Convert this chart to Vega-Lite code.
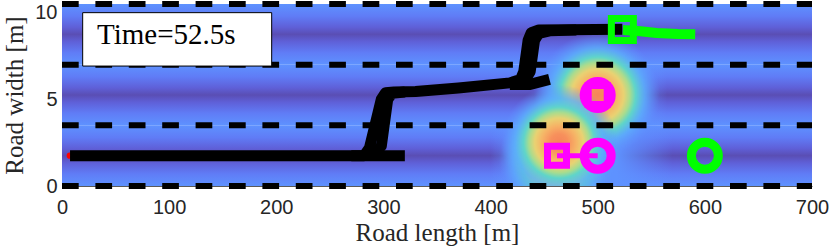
{
  "$schema": "https://vega.github.io/schema/vega-lite/v6.json",
  "width": 750,
  "height": 182,
  "autosize": "none",
  "padding": {"left": 62, "top": 4, "right": 18, "bottom": 63},
  "background": "white",
  "config": {
    "view": {"stroke": null},
    "axis": {
      "domainColor": "#5a5a5a",
      "domainWidth": 1,
      "ticks": false,
      "grid": false,
      "labelFont": "Liberation Sans",
      "labelFontSize": 20,
      "labelColor": "#262626",
      "titleFont": "Liberation Serif",
      "titleFontSize": 25,
      "titleFontWeight": "normal",
      "titleColor": "#262626"
    }
  },
  "datasets": {
    "lanes": [
      {"x": 0, "x2": 700, "y": 0, "y2": 3.5},
      {"x": 0, "x2": 700, "y": 3.5, "y2": 7},
      {"x": 0, "x2": 700, "y": 7, "y2": 10.5}
    ],
    "halos": [
      {"x": 400, "x2": 570, "y": 0, "y2": 3.5},
      {"x": 440, "x2": 565, "y": 3.5, "y2": 7}
    ],
    "blobs": [
      {"x": 442, "x2": 558, "y": 1.67, "y2": 8.83},
      {"x": 408, "x2": 516, "y": -1.85, "y2": 4.85},
      {"x": 410, "x2": 518, "y": -0.85, "y2": 5.85}
    ],
    "laneLines": [
      {"x": 0, "x2": 700, "y": 0},
      {"x": 0, "x2": 700, "y": 3.5},
      {"x": 0, "x2": 700, "y": 7},
      {"x": 0, "x2": 700, "y": 10.5}
    ],
    "start": [{"x": 7.3, "y": 1.75}],
    "egoPaths": [
      {"path": "A", "order": 1, "x": 7.5, "y": 1.75},
      {"path": "A", "order": 2, "x": 282, "y": 1.75},
      {"path": "A", "order": 3, "x": 287, "y": 2.2},
      {"path": "A", "order": 4, "x": 298, "y": 5.0},
      {"path": "A", "order": 5, "x": 302, "y": 5.38},
      {"path": "A", "order": 6, "x": 310, "y": 5.42},
      {"path": "A", "order": 7, "x": 330, "y": 5.45},
      {"path": "A", "order": 8, "x": 370, "y": 5.65},
      {"path": "A", "order": 9, "x": 418, "y": 5.95},
      {"path": "A", "order": 10, "x": 428, "y": 6.15},
      {"path": "A", "order": 11, "x": 431, "y": 6.6},
      {"path": "A", "order": 12, "x": 435, "y": 8.4},
      {"path": "A", "order": 13, "x": 438, "y": 8.85},
      {"path": "A", "order": 14, "x": 445, "y": 9.0},
      {"path": "A", "order": 15, "x": 523, "y": 9.05},
      {"path": "B", "order": 1, "x": 270, "y": 1.75},
      {"path": "B", "order": 2, "x": 320, "y": 1.75},
      {"path": "C", "order": 1, "x": 292, "y": 1.9},
      {"path": "C", "order": 2, "x": 298, "y": 2.3},
      {"path": "C", "order": 3, "x": 304, "y": 5.0},
      {"path": "C", "order": 4, "x": 308, "y": 5.35},
      {"path": "C", "order": 5, "x": 320, "y": 5.42},
      {"path": "D", "order": 1, "x": 425, "y": 6.0},
      {"path": "D", "order": 2, "x": 434, "y": 6.3},
      {"path": "D", "order": 3, "x": 437, "y": 6.6},
      {"path": "D", "order": 4, "x": 441, "y": 8.4},
      {"path": "D", "order": 5, "x": 445, "y": 8.8},
      {"path": "D", "order": 6, "x": 455, "y": 8.95},
      {"path": "D", "order": 7, "x": 480, "y": 9.0},
      {"path": "E", "order": 1, "x": 418, "y": 5.85},
      {"path": "E", "order": 2, "x": 436, "y": 5.85},
      {"path": "E", "order": 3, "x": 455, "y": 6.15}
    ],
    "egoPlan": [
      {"order": 1, "x": 523.5, "y": 9.0},
      {"order": 2, "x": 540, "y": 8.93},
      {"order": 3, "x": 555, "y": 8.83},
      {"order": 4, "x": 575, "y": 8.77},
      {"order": 5, "x": 591, "y": 8.75}
    ],
    "obstacleLink": [
      {"order": 1, "x": 462, "y": 1.75},
      {"order": 2, "x": 500, "y": 1.75}
    ],
    "obstacleNow": [
      {"x": 462, "y": 1.75},
      {"x": 500, "y": 5.25}
    ],
    "obstacleGoal": [
      {"x": 500, "y": 1.75},
      {"x": 500, "y": 5.25}
    ],
    "egoNow": [{"x": 523, "y": 9.03}],
    "egoGoal": [{"x": 600, "y": 1.75}],
    "timeBox": [
      {"x": 19.3, "x2": 195.7, "y": 6.92, "y2": 10.0}
    ],
    "timeLabel": [
      {"x": 32.7, "y": 8.18, "label": "Time=52.5s"}
    ]
  },
  "layer": [
    {
      "data": {"name": "lanes"},
      "mark": {
        "type": "rect",
        "color": {
          "gradient": "linear",
          "x1": 0, "y1": 0, "x2": 0, "y2": 1,
          "stops": [
            {"offset": 0, "color": "#5e92ff"},
            {"offset": 0.2, "color": "#607cf6"},
            {"offset": 0.38, "color": "#5f60d8"},
            {"offset": 0.5, "color": "#5a4eb4"},
            {"offset": 0.62, "color": "#5f60d8"},
            {"offset": 0.8, "color": "#607cf6"},
            {"offset": 1, "color": "#5e92ff"}
          ]
        }
      },
      "encoding": {
        "x": {
          "field": "x",
          "type": "quantitative",
          "scale": {"domain": [0, 700], "nice": false, "zero": false},
          "axis": {
            "values": [0, 100, 200, 300, 400, 500, 600, 700],
            "labelPadding": 11,
            "labelFlush": false,
            "labelOverlap": false,
            "titleY": 54,
            "titleBaseline": "alphabetic"
          },
          "title": "Road length [m]"
        },
        "x2": {"field": "x2"},
        "y": {
          "field": "y",
          "type": "quantitative",
          "scale": {"domain": [0, 10.5], "nice": false, "zero": false},
          "axis": {
            "values": [0, 5, 10],
            "labelPadding": 5,
            "labelOverlap": false,
            "titleX": -40,
            "titleY": 91,
            "titleAngle": -90,
            "titleBaseline": "alphabetic"
          },
          "title": "Road width [m]"
        },
        "y2": {"field": "y2"}
      }
    },
    {
      "data": {"name": "halos"},
      "mark": {
        "type": "rect",
        "color": {
          "gradient": "linear",
          "x1": 0, "y1": 0, "x2": 1, "y2": 0,
          "stops": [
            {"offset": 0, "color": "rgba(94,146,255,0)"},
            {"offset": 0.19, "color": "rgba(94,146,255,1)"},
            {"offset": 0.69, "color": "rgba(94,146,255,1)"},
            {"offset": 1, "color": "rgba(94,146,255,0)"}
          ]
        }
      },
      "encoding": {
        "x": {"field": "x", "type": "quantitative"},
        "x2": {"field": "x2"},
        "y": {"field": "y", "type": "quantitative"},
        "y2": {"field": "y2"}
      }
    },
    {
      "data": {"name": "blobs"},
      "mark": {
        "type": "rect",
        "clip": true,
        "color": {
          "gradient": "radial",
          "x1": 0.5, "y1": 0.5, "r1": 0,
          "x2": 0.5, "y2": 0.5, "r2": 0.5,
          "stops": [
            {"offset": 0, "color": "#f5845a"},
            {"offset": 0.15, "color": "#f7905c"},
            {"offset": 0.3, "color": "#f6b466"},
            {"offset": 0.42, "color": "#e9d272"},
            {"offset": 0.52, "color": "#a9dc8e"},
            {"offset": 0.61, "color": "#5fd5c9"},
            {"offset": 0.76, "color": "rgba(92,175,250,0.8)"},
            {"offset": 1, "color": "rgba(95,144,255,0)"}
          ]
        }
      },
      "encoding": {
        "x": {"field": "x", "type": "quantitative"},
        "x2": {"field": "x2"},
        "y": {"field": "y", "type": "quantitative"},
        "y2": {"field": "y2"}
      }
    },
    {
      "data": {"name": "laneLines"},
      "mark": {"type": "rule", "color": "black", "strokeWidth": 6, "strokeDash": [16.7, 16.7], "strokeCap": "butt", "clip": false},
      "encoding": {
        "x": {"field": "x", "type": "quantitative"},
        "x2": {"field": "x2"},
        "y": {"field": "y", "type": "quantitative"}
      }
    },
    {
      "data": {"name": "start"},
      "mark": {"type": "point", "shape": "circle", "filled": true, "color": "#ff0000", "size": 40, "opacity": 1},
      "encoding": {
        "x": {"field": "x", "type": "quantitative"},
        "y": {"field": "y", "type": "quantitative"}
      }
    },
    {
      "data": {"name": "egoPaths"},
      "mark": {"type": "line", "color": "black", "strokeWidth": 11, "strokeCap": "butt", "strokeJoin": "round"},
      "encoding": {
        "x": {"field": "x", "type": "quantitative"},
        "y": {"field": "y", "type": "quantitative"},
        "detail": {"field": "path"},
        "order": {"field": "order"}
      }
    },
    {
      "data": {"name": "egoPlan"},
      "mark": {"type": "line", "color": "#00ff00", "strokeWidth": 10, "strokeCap": "butt", "strokeJoin": "round"},
      "encoding": {
        "x": {"field": "x", "type": "quantitative"},
        "y": {"field": "y", "type": "quantitative"},
        "order": {"field": "order"}
      }
    },
    {
      "data": {"name": "obstacleLink"},
      "mark": {"type": "line", "color": "#ff00ff", "strokeWidth": 5, "strokeCap": "butt"},
      "encoding": {
        "x": {"field": "x", "type": "quantitative"},
        "y": {"field": "y", "type": "quantitative"},
        "order": {"field": "order"}
      }
    },
    {
      "data": {"name": "obstacleNow"},
      "mark": {"type": "point", "shape": "square", "filled": false, "color": "#ff00ff", "size": 361, "strokeWidth": 7, "opacity": 1},
      "encoding": {
        "x": {"field": "x", "type": "quantitative"},
        "y": {"field": "y", "type": "quantitative"}
      }
    },
    {
      "data": {"name": "obstacleGoal"},
      "mark": {"type": "point", "shape": "circle", "filled": false, "color": "#ff00ff", "size": 729, "strokeWidth": 9, "opacity": 1},
      "encoding": {
        "x": {"field": "x", "type": "quantitative"},
        "y": {"field": "y", "type": "quantitative"}
      }
    },
    {
      "data": {"name": "egoNow"},
      "mark": {"type": "point", "shape": "square", "filled": false, "color": "#00ff00", "size": 484, "strokeWidth": 7, "opacity": 1},
      "encoding": {
        "x": {"field": "x", "type": "quantitative"},
        "y": {"field": "y", "type": "quantitative"}
      }
    },
    {
      "data": {"name": "egoGoal"},
      "mark": {"type": "point", "shape": "circle", "filled": false, "color": "#00ff00", "size": 729, "strokeWidth": 9, "opacity": 1},
      "encoding": {
        "x": {"field": "x", "type": "quantitative"},
        "y": {"field": "y", "type": "quantitative"}
      }
    },
    {
      "data": {"name": "timeBox"},
      "mark": {"type": "rect", "fill": "white", "stroke": "black", "strokeWidth": 1},
      "encoding": {
        "x": {"field": "x", "type": "quantitative"},
        "x2": {"field": "x2"},
        "y": {"field": "y", "type": "quantitative"},
        "y2": {"field": "y2"}
      }
    },
    {
      "data": {"name": "timeLabel"},
      "mark": {"type": "text", "font": "Liberation Serif", "fontSize": 29, "align": "left", "baseline": "alphabetic", "color": "black"},
      "encoding": {
        "x": {"field": "x", "type": "quantitative"},
        "y": {"field": "y", "type": "quantitative"},
        "text": {"field": "label"}
      }
    }
  ]
}
